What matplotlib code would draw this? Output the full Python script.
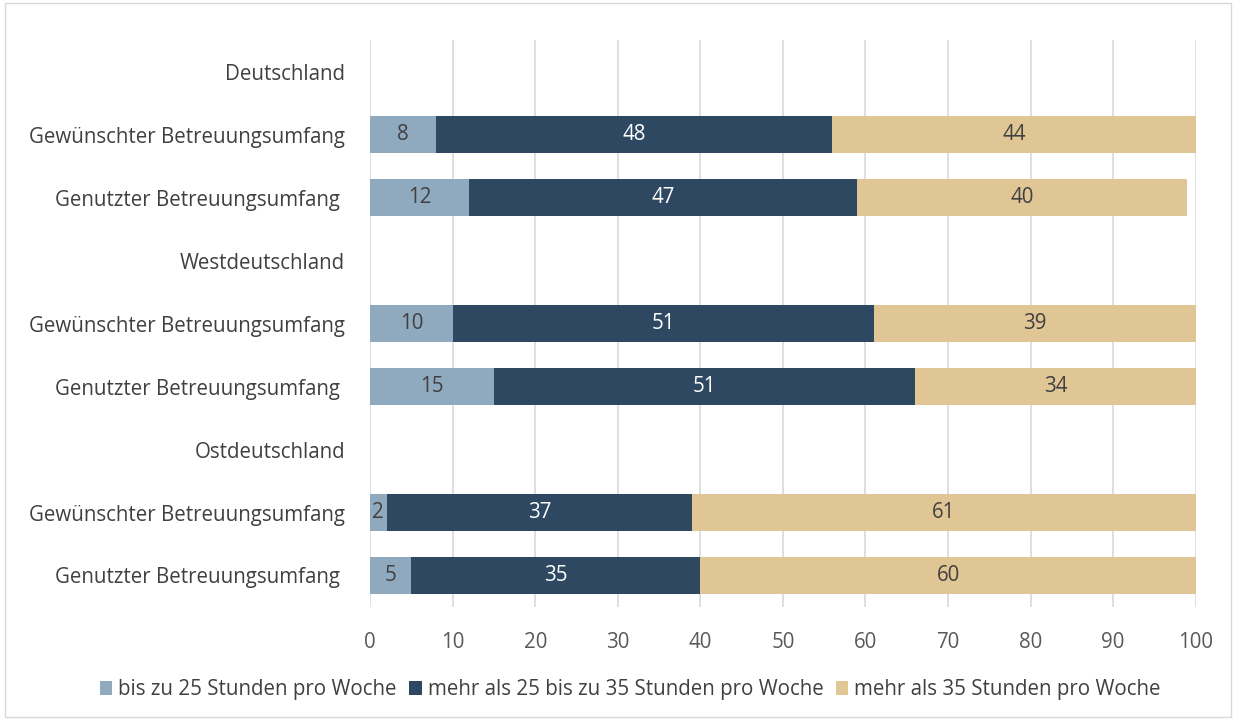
import matplotlib.pyplot as plt
from matplotlib.patches import Rectangle

plt.rcParams['font.family'] = ['Open Sans', 'DejaVu Sans']

categories = ['Deutschland', 'Gewünschter Betreuungsumfang', 'Genutzter Betreuungsumfang ',
              'Westdeutschland', 'Gewünschter Betreuungsumfang', 'Genutzter Betreuungsumfang ',
              'Ostdeutschland', 'Gewünschter Betreuungsumfang', 'Genutzter Betreuungsumfang ']
bis25 = [None, 8, 12, None, 10, 15, None, 2, 5]
bis35 = [None, 48, 47, None, 51, 51, None, 37, 35]
ueber35 = [None, 44, 40, None, 39, 34, None, 61, 60]
series_names = ['bis zu 25 Stunden pro Woche', 'mehr als 25 bis zu 35 Stunden pro Woche',
                'mehr als 35 Stunden pro Woche']
colors = ['#8FA9BF', '#2E4861', '#E0C595']
text_colors = ['#404040', 'white', '#404040']

fs = 14.8

fig = plt.figure(figsize=(12.36, 7.2), dpi=100)
ax = fig.add_axes([0.2994, 0.157, 0.668, 0.787])

rows = [i for i, v in enumerate(bis25) if v is not None]
left = [0] * len(rows)
for vals, col, tcol, name in zip([bis25, bis35, ueber35], colors, text_colors, series_names):
    w = [vals[i] for i in rows]
    bars = ax.barh(rows, w, left=left, height=0.59, color=col, label=name, zorder=3)
    ax.bar_label(bars, labels=[str(v) for v in w], label_type='center', color=tcol, fontsize=fs)
    left = [a + b for a, b in zip(left, w)]

ax.set_ylim(8.5, -0.5)
ax.set_xlim(0, 100)
ax.set_yticks(range(len(categories)))
ax.set_yticklabels(categories, fontsize=fs, color='#404040')
ax.set_xticks(range(0, 101, 10))
ax.tick_params(axis='x', labelsize=fs, labelcolor='#595959', length=0, pad=18)
ax.tick_params(axis='y', length=0, pad=18)
ax.grid(axis='x', color='#D9D9D9', linewidth=1.2, zorder=0)
for s in ax.spines.values():
    s.set_visible(False)

fig.legend(loc='center', bbox_to_anchor=(0.51, 0.042), ncol=3, frameon=False,
           fontsize=fs, handlelength=0.6, handleheight=0.6, handletextpad=0.3,
           columnspacing=0.6, labelcolor='#404040')

fig.patches.append(Rectangle((0.004, 0.004), 0.992, 0.992, transform=fig.transFigure,
                             fill=False, edgecolor='#D9D9D9', linewidth=1))

fig.savefig('out.png', dpi=100)
